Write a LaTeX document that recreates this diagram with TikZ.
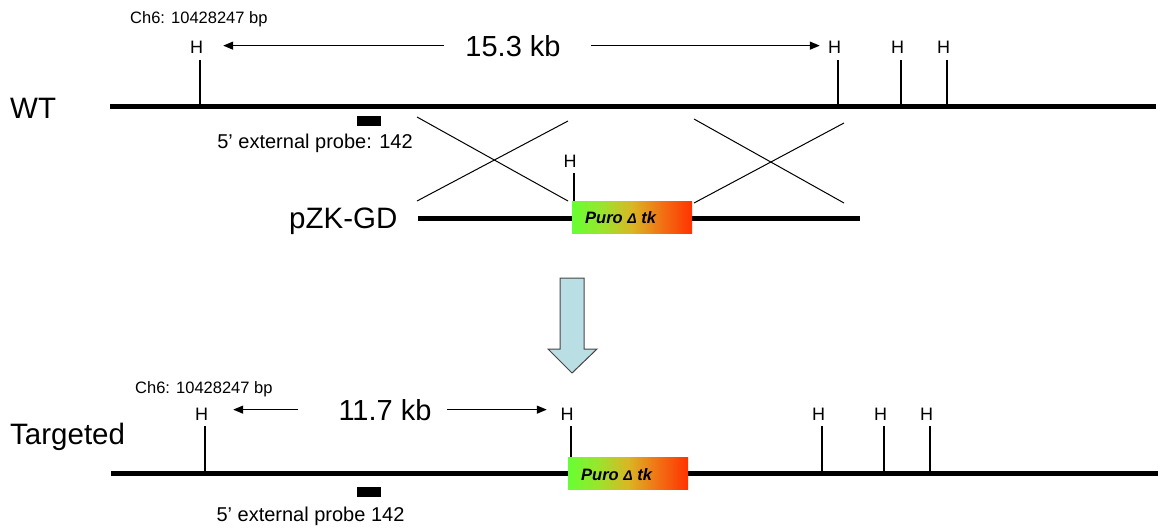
\documentclass[tikz,border=0pt]{standalone}
\usepackage{fontspec}
\setmainfont{Liberation Sans}
\usetikzlibrary{arrows.meta}
\definecolor{pgreen}{RGB}{102,255,51}
\definecolor{pylg}{RGB}{155,228,45}
\definecolor{pmid}{RGB}{218,182,36}
\definecolor{porg}{RGB}{242,112,20}
\definecolor{pred}{RGB}{255,51,0}
\definecolor{arrowfill}{RGB}{185,222,228}
\definecolor{arrowedge}{RGB}{70,70,70}
% green-to-red fill of the selection cassette
\pgfdeclarehorizontalshading{purofill}{100bp}{color(0bp)=(pgreen); color(25bp)=(pgreen);
  color(37.5bp)=(pylg); color(50bp)=(pmid); color(62.5bp)=(porg); color(75bp)=(pred); color(100bp)=(pred)}

\begin{document}
\begin{tikzpicture}[x=1pt,y=-1pt,
  hlab/.style={anchor=base,inner sep=0pt,font=\fontsize{18}{20}\selectfont},
  biglab/.style={anchor=base,inner sep=0pt,font=\fontsize{29}{32}\selectfont},
  rowlab/.style={anchor=base west,inner sep=0pt,font=\fontsize{29.5}{32}\selectfont},
  poslab/.style={anchor=base west,inner sep=0pt,font=\fontsize{16.5}{18}\selectfont},
  probelab/.style={anchor=base,inner sep=0pt,font=\fontsize{20}{22}\selectfont},
  dna/.style={line width=5pt},
  tick/.style={line width=1.1pt},
  xline/.style={line width=1pt},
  span/.style={line width=1.3pt,-{Triangle[length=10pt,width=8pt]}},
  probe/.style={fill=black,inner sep=0pt,minimum width=24pt,minimum height=10pt},
  cassette/.style={inner sep=0pt,minimum width=120pt,minimum height=32pt,shading=purofill},
  cassettelab/.style={anchor=base west,inner sep=0pt,font=\fontsize{16.5}{18}\selectfont\bfseries\itshape},
]
\useasboundingbox (0,0) rectangle (1158,528);

% ---------------- wild-type locus ----------------
\node[rowlab] (wtname) at (10,118) {WT};
\coordinate (wtL) at (110,106);
\coordinate (wtR) at (1156,106);
\draw[dna] (wtL) -- (wtR);
\node[poslab] (wtpos) at (130,23) {Ch6: 10428247 bp};

\foreach \n/\x in {a/200,b/838,c/901,d/947}{
  \coordinate (wk\n) at (\x,106);
  \node[hlab] (wh\n) at (\x-3.5,53.5) {H};
  \coordinate (wt\n) at (wh\n.south -| wk\n);
  \draw[tick] ([yshift=-6.5pt]wt\n) -- (wk\n);
}

\node[biglab] (wtkb) at (513,56) {15.3 kb};
\coordinate (wal) at ([xshift=20pt]wha.east);
\coordinate (war) at ([xshift=-8pt]whb.west);
\draw[span] ([xshift=-21pt]wtkb.west) -- (wal |- wtkb.west);
\draw[span] ([xshift=30.5pt]wtkb.east) -- (war |- wtkb.east);

\node[probe] (wprobe) at (369,121) {};
\node[probelab] (wprobelab) at (315,148) {5’ external probe: 142};

% crossover lines between the locus and the vector arms
\coordinate (xa1) at (417,117);  \coordinate (xa2) at (568,201);
\coordinate (xa3) at (417,201);  \coordinate (xa4) at (568,121);
\coordinate (xb1) at (694,119);  \coordinate (xb2) at (844,203);
\coordinate (xb3) at (694,203);  \coordinate (xb4) at (844,123);
\draw[xline] (xa1) -- (xa2);
\draw[xline] (xa3) -- (xa4);
\draw[xline] (xb1) -- (xb2);
\draw[xline] (xb3) -- (xb4);

% ---------------- targeting vector ----------------
\node[rowlab] (pzkname) at (289,228) {pZK-GD};
\coordinate (pzL) at (418,218);
\coordinate (pzR) at (860,218);
\draw[dna] (pzL) -- (pzR);
\node[cassette] (pzbox) at (632,217) {};
\node[cassettelab] (pzboxlab) at (585,223) {Puro {\fontsize{14}{16}\selectfont Δ} tk};
\node[hlab] (pzh) at (570,167) {H};
\coordinate (pzht) at ([xshift=4pt,yshift=-6pt]pzh.south);
\draw[tick] (pzht) -- (pzht |- pzbox.north);

% ---------------- recombination arrow ----------------
\draw[fill=arrowfill,draw=arrowedge,line width=1pt,line join=miter]
  (560,278) -- (584,278) -- (584,349) -- (597,349) -- (572,373)
  -- (548,349) -- (560,349) -- cycle;

% ---------------- targeted locus ----------------
\node[rowlab] (tgname) at (10,444) {Targeted};
\coordinate (tgL) at (111,473);
\coordinate (tgR) at (1158,473);
\draw[dna] (tgL) -- (tgR);
\node[poslab] (tgpos) at (135,393) {Ch6: 10428247 bp};
\node[cassette] (tgbox) at (628,473) {};
\node[cassettelab] (tgboxlab) at (581,480) {Puro {\fontsize{14}{16}\selectfont Δ} tk};

\foreach \n/\x in {a/205,c/822,d/884,e/930}{
  \coordinate (tk\n) at (\x,473);
  \node[hlab] (th\n) at (\x-3.5,420) {H};
  \coordinate (tt\n) at (th\n.south -| tk\n);
  \draw[tick] ([yshift=-6pt]tt\n) -- (tk\n);
}
\node[hlab] (thb) at (567,420) {H};
\coordinate (ttb) at ([xshift=4pt,yshift=-6pt]thb.south);
\draw[tick] (ttb) -- (ttb |- tgbox.north);

\node[biglab] (tgkb) at (385,420) {11.7 kb};
\coordinate (tal) at ([xshift=25pt]tha.east);
\coordinate (tar) at ([xshift=-13.5pt]thb.west);
\draw[span] ([xshift=-40pt]tgkb.west) -- (tal |- tgkb.west);
\draw[span] ([xshift=15pt]tgkb.east) -- (tar |- tgkb.east);

\node[probe] (tprobe) at (369,492) {};
\node[probelab] (tprobelab) at (310.5,521) {5’ external probe 142};
\end{tikzpicture}
\end{document}
